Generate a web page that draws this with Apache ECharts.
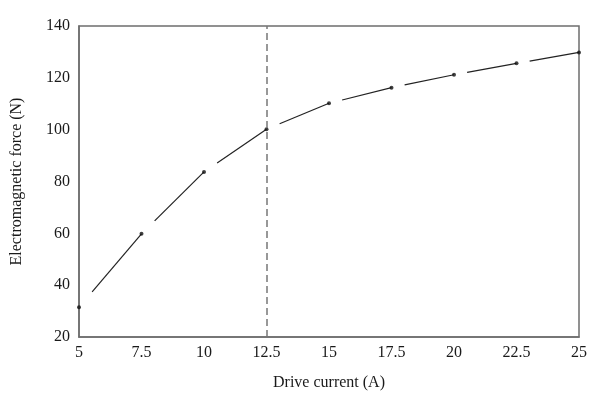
<!DOCTYPE html>
<html>
<head>
<meta charset="utf-8">
<script src="https://cdn.jsdelivr.net/npm/echarts@6/dist/echarts.min.js"></script>
<style>
html, body { margin: 0; padding: 0; background: #fff; }
#chart { width: 590px; height: 396px; }
</style>
</head>
<body>
<div id="chart"></div>
<script>
var chart = echarts.init(document.getElementById('chart'));

// drive current (A) and electromagnetic force (N)
var current = [5, 7.5, 10, 12.5, 15, 17.5, 20, 22.5, 25];
var force = [31.5, 59.8, 83.7, 100.2, 110.2, 116.2, 121.2, 125.6, 129.8];
var xTicks = [5, 7.5, 10, 12.5, 15, 17.5, 20, 22.5, 25];
var yTicks = [20, 40, 60, 80, 100, 120, 140];
var markX = 12.5;

var pts = [];
for (var i = 0; i < current.length; i++) {
    pts.push([current[i], force[i]]);
}
// one entry per interval: [x0, y0, x1, y1]
var segs = [];
for (var j = 0; j < pts.length - 1; j++) {
    segs.push([pts[j][0], pts[j][1], pts[j + 1][0], pts[j + 1][1]]);
}

var serif = 'Liberation Serif';
var axisGray = '#6e6e6e';

option = {
    backgroundColor: '#fff',
    animation: false,
    grid: {
        left: 79,
        right: 10,
        top: 26,
        bottom: 58,
        show: true,
        borderColor: axisGray,
        borderWidth: 1.5
    },
    xAxis: {
        type: 'value',
        min: 5,
        max: 25,
        interval: 2.5,
        name: 'Drive current (A)',
        nameLocation: 'middle',
        nameGap: 38,
        nameTextStyle: { fontFamily: serif, fontSize: 16, color: '#1a1a1a' },
        axisLine: { show: true, lineStyle: { color: axisGray, width: 1.5 } },
        axisTick: { show: false },
        splitLine: { show: false },
        axisLabel: {
            fontFamily: serif,
            fontSize: 16,
            color: '#1a1a1a',
            margin: 8,
            formatter: function (v) { return xTicks.indexOf(v) >= 0 ? String(v) : ''; }
        }
    },
    yAxis: {
        type: 'value',
        min: 20,
        max: 140,
        interval: 20,
        name: 'Electromagnetic force (N)',
        nameLocation: 'middle',
        nameGap: 54,
        nameTextStyle: { fontFamily: serif, fontSize: 16, color: '#1a1a1a' },
        axisLine: { show: true, lineStyle: { color: axisGray, width: 1.5 } },
        axisTick: { show: false },
        splitLine: { show: false },
        axisLabel: {
            fontFamily: serif,
            fontSize: 16,
            color: '#1a1a1a',
            margin: 9,
            formatter: function (v) { return yTicks.indexOf(v) >= 0 ? String(v) : ''; }
        }
    },
    series: [{
        // curve pieces: each starts a little after a point and runs to the next one
        type: 'custom',
        data: segs,
        silent: true,
        clip: false,
        renderItem: function (params, api) {
            var a = api.coord([api.value(0), api.value(1)]);
            var b = api.coord([api.value(2), api.value(3)]);
            var f = 0.21;
            return {
                type: 'line',
                shape: {
                    x1: a[0] + (b[0] - a[0]) * f,
                    y1: a[1] + (b[1] - a[1]) * f,
                    x2: b[0],
                    y2: b[1]
                },
                style: { stroke: '#222', lineWidth: 1.2 }
            };
        },
        z: 2
    }, {
        type: 'scatter',
        data: pts,
        symbol: 'circle',
        symbolSize: 4,
        itemStyle: { color: '#111' },
        silent: true,
        z: 3,
        markLine: {
            silent: true,
            symbol: 'none',
            label: { show: false },
            lineStyle: { color: '#777', type: [7, 4], width: 1.5 },
            data: [{ xAxis: markX }]
        }
    }]
};

chart.setOption(option);
</script>
</body>
</html>
